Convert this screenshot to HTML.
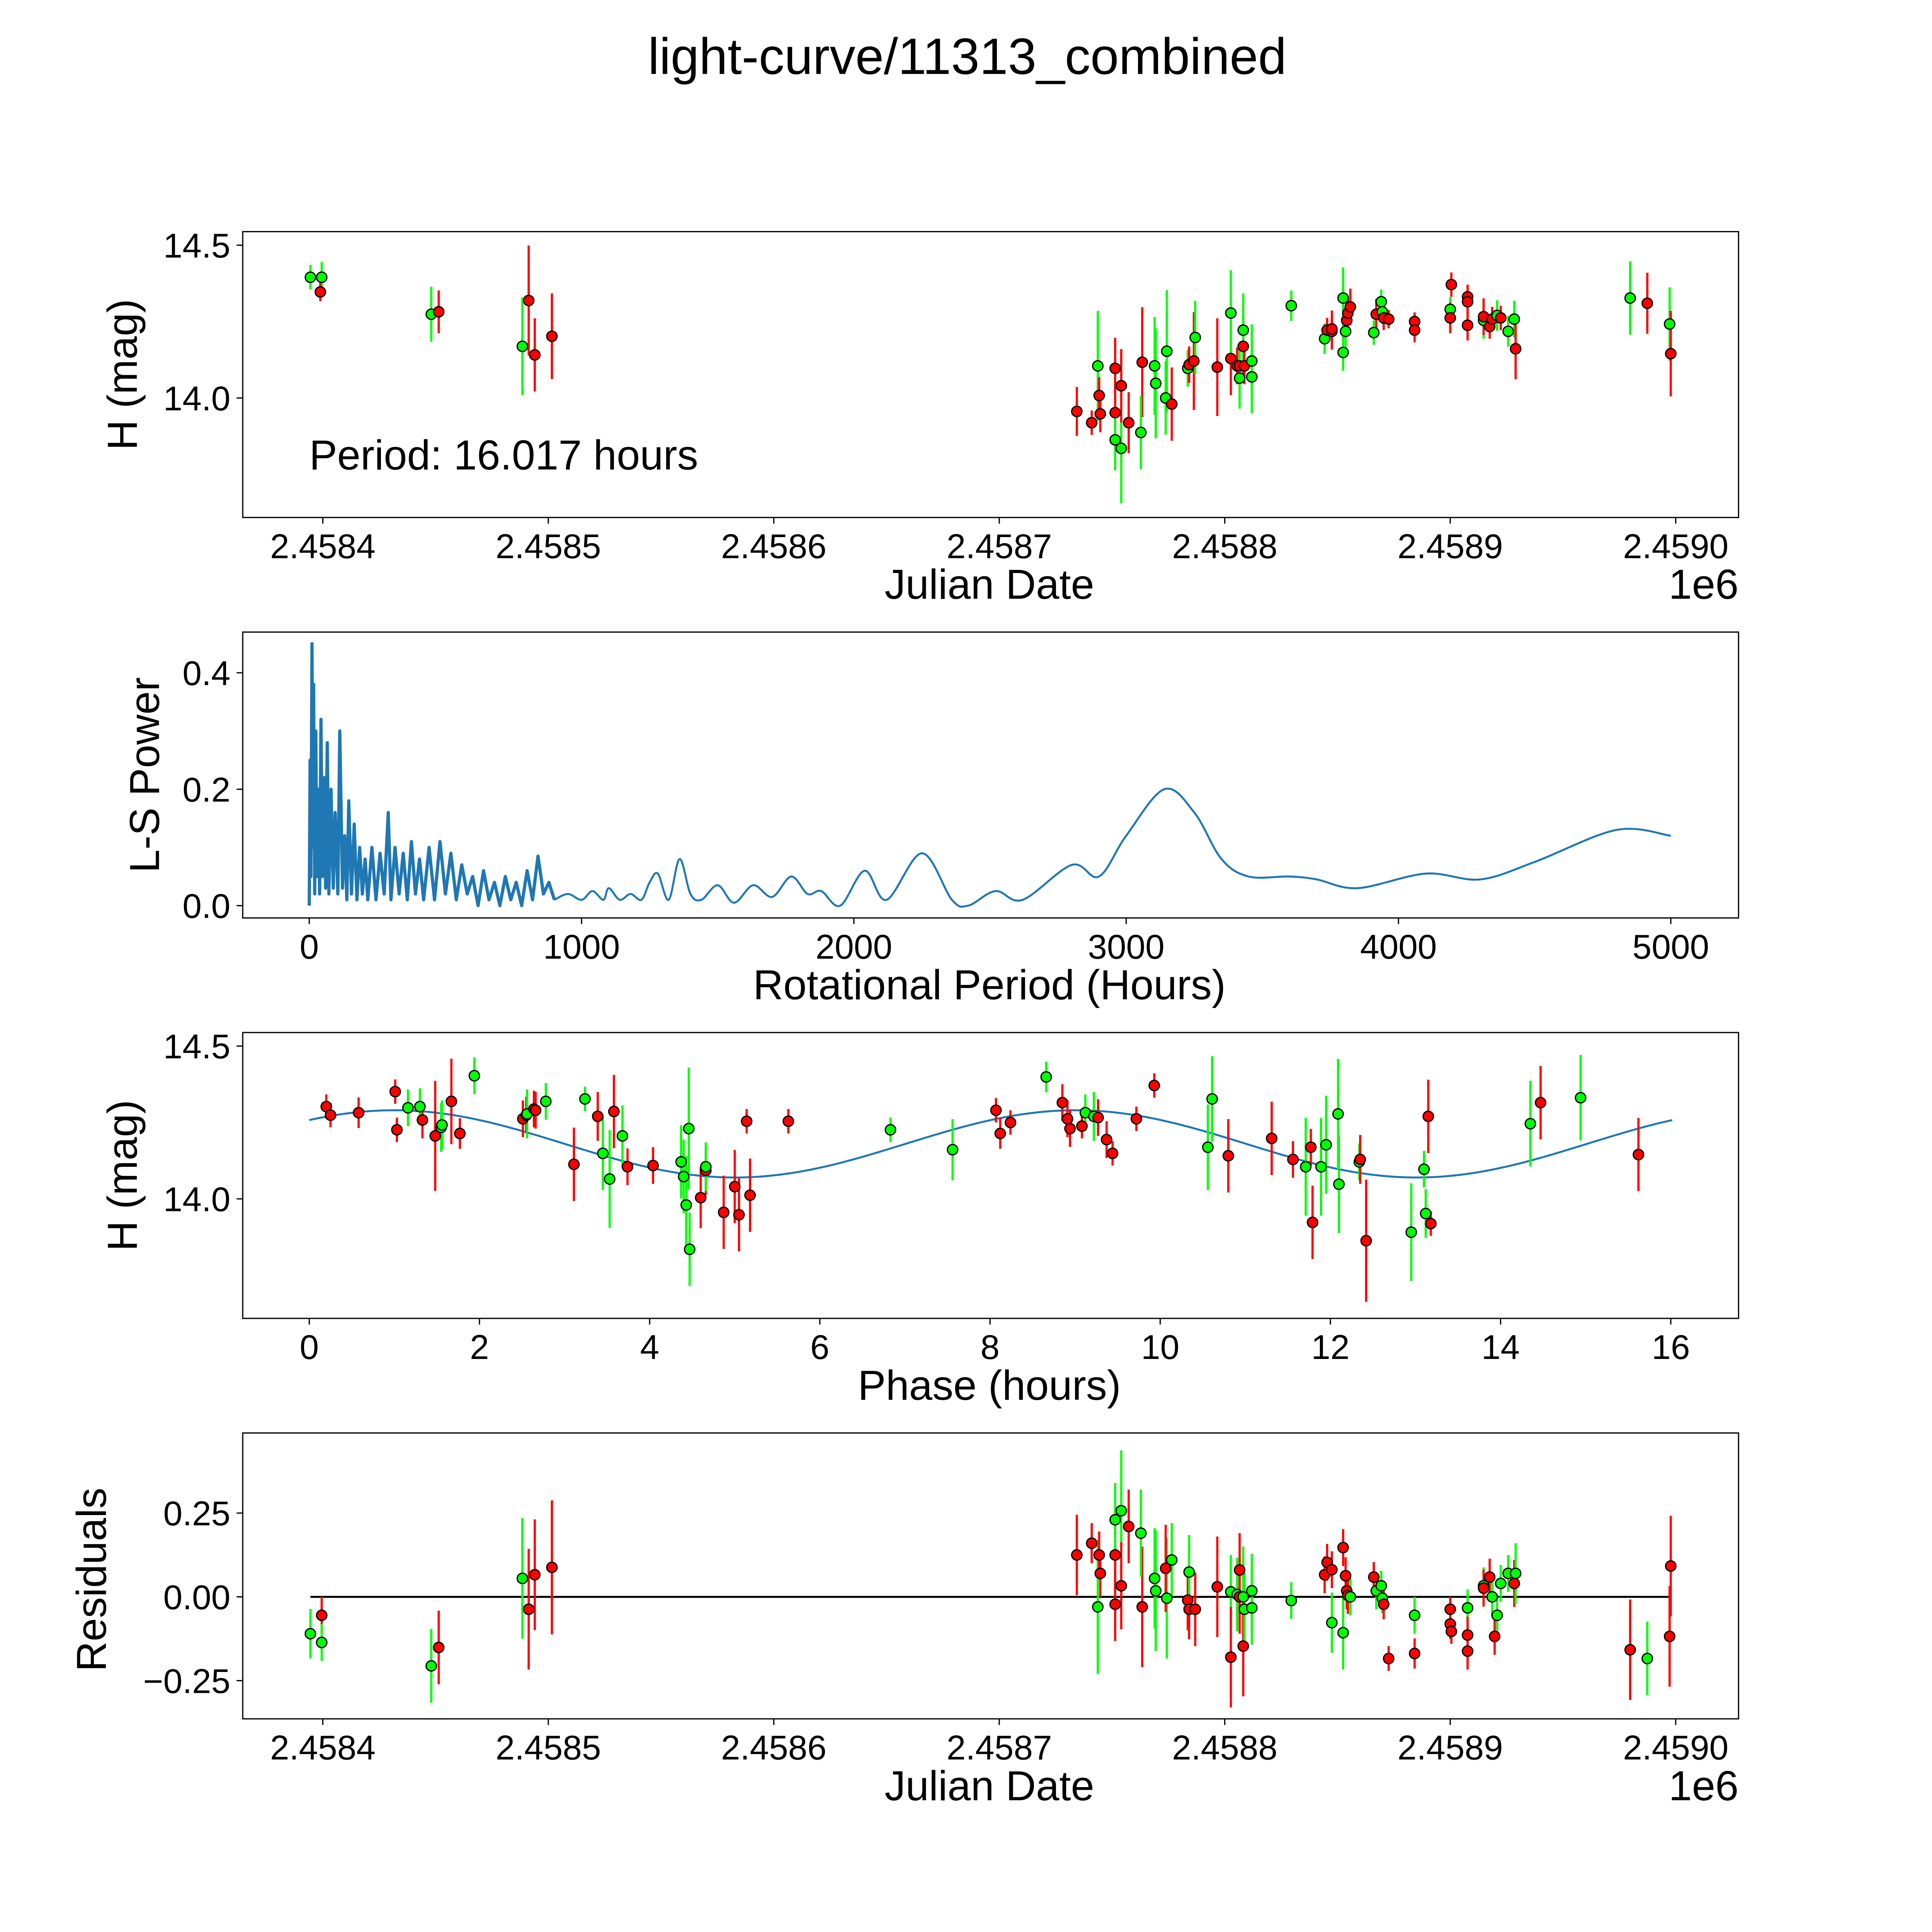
<!DOCTYPE html>
<html><head><meta charset="utf-8"><style>
html,body{margin:0;padding:0;background:#fff;width:100vw;height:100vh;overflow:hidden}
svg{display:block;width:100vw;height:100vh}
text{font-family:"Liberation Sans","DejaVu Sans",sans-serif;fill:#000}
</style></head><body>
<svg id="fig" xmlns="http://www.w3.org/2000/svg" viewBox="0 0 1568 1568" preserveAspectRatio="xMidYMid meet">
<rect x="0" y="0" width="1568" height="1568" fill="#fff"/>
<text x="785" y="60" font-size="41.5" text-anchor="middle">light-curve/11313_combined</text>
</svg>
<script>
// ---------- Panel 1 data ----------
const jdBase = 2458400;
const lcDays = [-5.5,-0.5,-1.1,48.1,51.4,88.5,91.3,94.0,101.6,334.4,341.0,343.7,344.3,344.8,351.4,351.4,351.4,354.1,354.1,357.4,363.4,362.8,368.9,369.4,374.3,373.8,376.5,383.6,384.2,386.3,386.9,396.7,402.7,402.7,405.5,406.6,406.6,408.2,408.2,408.7,412.0,412.0,429.5,444.3,445.4,447.5,447.5,452.5,452.5,453.6,454.1,454.6,455.7,466.1,467.2,469.4,469.9,470.5,472.7,484.2,484.2,500.0,500.0,500.5,507.7,507.7,507.7,514.8,514.8,517.5,518.6,520.8,522.4,525.7,528.4,529.0,579.8,587.4,597.3,597.8];
const lcMag = [14.395,14.395,14.347,14.274,14.282,14.169,14.319,14.141,14.202,13.956,13.919,14.105,14.008,13.948,14.097,13.952,13.863,13.835,14.040,13.919,14.117,13.887,14.105,14.048,14.153,14.0,13.98,14.097,14.109,14.121,14.198,14.101,14.129,14.278,14.105,14.105,14.065,14.169,14.222,14.105,14.121,14.069,14.302,14.194,14.222,14.218,14.226,14.327,14.149,14.218,14.254,14.278,14.298,14.214,14.274,14.315,14.282,14.262,14.258,14.25,14.222,14.29,14.262,14.371,14.331,14.238,14.315,14.254,14.266,14.234,14.258,14.270,14.262,14.218,14.258,14.161,14.327,14.31,14.242,14.145];
const lcErr = [.04,.05,.03,.09,.07,.16,.18,.12,.14,.08,.04,.18,.06,.06,.10,.10,.10,.18,.12,.10,.18,.12,.16,.18,.20,.12,.12,.06,.06,.16,.12,.16,.12,.14,.06,.06,.10,.12,.12,.06,.12,.12,.05,.05,.04,.06,.06,.10,.06,.06,.04,.05,.06,.04,.05,.04,.04,.04,.03,.03,.04,.04,.05,.04,.04,.05,.04,.06,.06,.04,.04,.05,.04,.05,.06,.10,.12,.10,.12,.14];
const lcColor = "ggrgrgrrrrrgrrrrggrrrgggggrgrrgrrgrrgrgrggggrrrgggrrrgrggrrrrgrrrrrgrrrgrggrgrgr".split("");

// ---------- Panel 2 data ----------
const noisyPeriods = [0,3,6,10,13,16,20,24,28,33,38,43,48,55,60,66,72,80,88,95,105,112,122,130,138,145,155,165,175,185,195,205,215,230,245,260,275,290,300,315,330,345,360,375,390,405,420,440,460,480,500,520,540,560,580,600,620,640,660,680,700,720,740,760,780,800,820,840,860,880,900];
const noisyPower = [0,0.25,0.05,0.45,0.1,0.38,0.02,0.30,0.05,0.20,0.02,0.32,0.05,0.22,0.03,0.28,0.02,0.20,0.03,0.16,0.02,0.30,0.03,0.12,0.01,0.18,0.02,0.14,0.01,0.10,0.02,0.08,0.01,0.10,0.01,0.09,0.02,0.16,0.01,0.10,0.02,0.09,0.01,0.11,0.02,0.08,0.01,0.10,0.01,0.11,0.02,0.09,0.01,0.07,0.02,0.05,0.0,0.06,0.01,0.04,0.0,0.05,0.01,0.04,0.0,0.06,0.01,0.085,0.02,0.04,0.01];
const smoothPeriods = [900,950,1000,1040,1080,1100,1140,1180,1220,1250,1280,1320,1360,1400,1440,1500,1560,1630,1700,1770,1830,1880,1950,2040,2120,2250,2360,2420,2520,2620,2800,2900,3000,3140,3250,3350,3450,3600,3700,3850,4100,4300,4500,4800,5000];
const smoothPower = [0.01,0.02,0.01,0.025,0.01,0.03,0.01,0.02,0.01,0.04,0.055,0.01,0.08,0.02,0.01,0.035,0.005,0.035,0.015,0.05,0.02,0.025,0.0,0.06,0.01,0.09,0.01,0.0,0.025,0.01,0.07,0.05,0.12,0.20,0.16,0.08,0.05,0.05,0.045,0.03,0.055,0.045,0.075,0.13,0.12];
const perTicks = [0,1000,2000,3000,4000,5000];
const powTicks = [0.0,0.2,0.4];

// ---------- Panel 3 data ----------
const phHours = [0.20,0.25,0.58,1.01,1.03,1.16,1.30,1.33,1.48,1.55,1.56,1.67,1.77,1.94,2.51,2.55,2.56,2.64,2.66,2.78,3.11,3.24,3.39,3.45,3.53,3.58,3.68,3.74,4.04,4.37,4.40,4.43,4.46,4.47,4.60,4.66,4.66,4.87,5.00,5.05,5.14,5.18,5.63,6.83,7.56,8.07,8.12,8.24,8.66,8.85,8.91,8.94,9.08,9.12,9.22,9.27,9.37,9.44,9.72,9.93,10.56,10.61,10.80,11.31,11.56,11.71,11.77,11.79,11.89,11.95,12.09,12.10,12.34,12.35,12.42,12.95,13.10,13.12,13.15,13.18,14.35,14.47,14.94,15.62];
const phMag = [14.302,14.274,14.282,14.351,14.226,14.298,14.302,14.258,14.206,14.234,14.242,14.319,14.214,14.403,14.262,14.274,14.278,14.294,14.290,14.319,14.113,14.327,14.270,14.149,14.065,14.286,14.206,14.105,14.109,14.121,14.073,13.980,14.230,13.835,14.004,14.093,14.105,13.956,14.040,13.948,14.254,14.012,14.254,14.226,14.161,14.290,14.214,14.250,14.399,14.315,14.262,14.230,14.238,14.282,14.270,14.266,14.194,14.149,14.262,14.371,14.169,14.327,14.141,14.198,14.129,14.105,14.169,13.923,14.105,14.177,14.278,14.048,14.121,14.129,13.863,13.891,14.097,13.952,14.270,13.919,14.246,14.315,14.331,14.145];
const phErr = [.04,.04,.05,.04,.04,.06,.06,.06,.18,.08,.08,.14,.05,.06,.06,.06,.08,.06,.06,.06,.12,.04,.08,.12,.16,.12,.10,.06,.06,.12,.12,.16,.20,.12,.10,.08,.08,.12,.12,.12,.04,.12,.04,.04,.10,.04,.05,.04,.05,.06,.06,.06,.04,.06,.08,.06,.06,.04,.04,.04,.14,.14,.12,.12,.06,.16,.06,.12,.16,.16,.18,.16,.06,.08,.20,.16,.06,.08,.12,.04,.14,.12,.14,.12];
const phColor = "rrrrrggrrggrrgrrgrrgrgrggrgrrgggggrrgrrrrrrggrrrgrrrrggrrrrrggrrrgrrgggggrrgggrrgrgrgr".split("");
const fitMean = 14.18, fitAmp = 0.11, fitPeriod = 16.017, fitPhase0 = 1.0;
const phTicks = [0,2,4,6,8,10,12,14,16];

// ---------- Panel 4 data ----------
const resDays = [-5.5,-0.5,-0.5,48.1,51.4,88.5,91.3,94.0,101.6,334.4,341.0,343.7,344.3,344.8,351.4,351.4,351.4,354.1,354.1,357.4,363.4,362.8,368.9,369.4,374.3,373.8,376.5,383.6,384.2,384.2,386.9,396.7,402.7,402.7,405.5,406.6,406.6,408.2,408.2,408.7,412.0,412.0,429.5,444.3,445.4,447.5,447.5,452.5,452.5,453.6,454.1,454.6,455.7,466.1,467.2,469.4,469.9,470.5,472.7,484.2,484.2,500.0,500.0,500.5,507.7,507.7,507.7,514.8,514.8,517.5,518.6,520.8,519.7,522.4,525.7,528.4,529.0,579.8,587.4,597.3,597.8];
const resVal = [-0.110,-0.055,-0.136,-0.206,-0.151,0.055,-0.037,0.066,0.088,0.125,0.16,-0.03,0.125,0.07,0.125,-0.022,0.23,0.257,0.033,0.21,-0.03,0.19,0.055,0.018,-0.004,0.085,0.11,-0.01,-0.037,0.074,-0.037,0.03,0.015,-0.18,0.007,0.0,0.08,0.0,-0.147,-0.037,-0.033,0.018,-0.011,0.066,0.103,0.081,-0.077,-0.107,0.147,0.063,0.018,0.004,0.0,0.059,0.018,0.033,-0.004,-0.022,-0.184,-0.169,-0.055,-0.037,-0.081,-0.103,-0.033,-0.114,-0.162,0.033,0.026,0.059,0.0,-0.055,-0.118,0.04,0.07,0.04,0.07,-0.158,-0.184,-0.118,0.092];
const resErr = [.074,.055,.055,.11,.11,.18,.18,.165,.20,.12,.06,.2,.07,.07,.11,.11,.11,.18,.13,.11,.18,.13,.15,.18,.18,.13,.11,.09,.09,.11,.11,.15,.11,.15,.11,.11,.11,.15,.15,.11,.11,.11,.055,.055,.055,.055,.09,.11,.055,.055,.055,.055,.055,.045,.055,.045,.045,.045,.037,.045,.055,.037,.045,.037,.055,.055,.055,.055,.055,.055,.055,.055,.055,.055,.055,.07,.09,.15,.11,.15,.15];
const resColor = "grggrgrrrrrgrrrrggrrrggggrgrrgrrgrgrrgrggggrrrggrrrrgrgggrrrgrrrgrrgrrggrggrgrgr".split("");
const jdTicks = [2458400,2458500,2458600,2458700,2458800,2458900,2459000];
const magTicks = [14.0,14.5];
const resTicks = [-0.25,0.0,0.25];

// ---------- Layout ----------
const NS = "http://www.w3.org/2000/svg";
const svg = document.getElementById("fig");
const AX_L = 197, AX_R = 1411;
const TICK_FS = 28, LAB_FS = 34;
const panels = [{top:188,bot:420},{top:513,bot:745},{top:838,bot:1070},{top:1163,bot:1395}];
function lin(d0,d1,r0,r1){return v => r0 + (v-d0)*(r1-r0)/(d1-d0);}
const xJD = lin(2458400,2459000,262,1360);
const yMag1 = lin(14.0,14.5,323,199);
const xPer = lin(0,5000,251,1356);
const yPow = lin(0,0.4,735,546);
const xPh = lin(0,16,251,1356);
const yMag3 = lin(14.0,14.5,973,849);
const yRes = lin(0,0.25,1296,1228);

function el(tag, attrs, parent){
  const e = document.createElementNS(NS, tag);
  for (const k in attrs) e.setAttribute(k, attrs[k]);
  (parent||svg).appendChild(e);
  return e;
}
function txt(s, x, y, size, anchor, parent, rot){
  const t = el("text",{x:x,y:y,"font-size":size,"text-anchor":anchor||"middle"},parent);
  if (rot) t.setAttribute("transform","rotate(-90 "+x+" "+y+")");
  t.textContent = s;
  return t;
}
function fmt(v,d){const s=v.toFixed(d);return v<0?"\u2212"+s.slice(1):s;}

function frame(p, name){
  const g = el("g",{});
  
  
  const r = el("rect",{x:AX_L,y:p.top,width:AX_R-AX_L,height:p.bot-p.top,fill:"none",stroke:"#000","stroke-width":1},g);
  
  
  return g;
}
function xTicks(g, p, ticks, sx, lab){
  ticks.forEach(t=>{
    const x = sx(t);
    el("line",{x1:x,x2:x,y1:p.bot,y2:p.bot+5,stroke:"#000","stroke-width":1},g);
    const tl = txt(lab(t), x, p.bot+33, TICK_FS, "middle", g);
    
    
  });
}
function yTicks(g, p, ticks, sy, lab){
  ticks.forEach(t=>{
    const y = sy(t);
    el("line",{x1:AX_L-5,x2:AX_L,y1:y,y2:y,stroke:"#000","stroke-width":1},g);
    const tl = txt(lab(t), AX_L-10, y+10, TICK_FS, "end", g);
    
    
  });
}
function points(g, xs, ys, es, cs, sx, sy){
  const col = c => c==="g" ? "#00ff00" : "#ff0000";
  xs.forEach((v,i)=>{
    const x=sx(v), y1=sy(ys[i]-es[i]), y2=sy(ys[i]+es[i]);
    const b = el("line",{x1:x,x2:x,y1:y1,y2:y2,stroke:col(cs[i]),"stroke-width":1.8},g);
    
    
  });
  xs.forEach((v,i)=>{
    const c = el("circle",{cx:sx(v),cy:sy(ys[i]),r:4.2,fill:col(cs[i]),stroke:"#000","stroke-width":1},g);
    
    
  });
}

// Panel 1
const g1 = frame(panels[0], "light-curve-panel");
xTicks(g1, panels[0], jdTicks, xJD, t=>(t/1e6).toFixed(4));
yTicks(g1, panels[0], magTicks, yMag1, t=>t.toFixed(1));
points(g1, lcDays.map(d=>d+jdBase), lcMag, lcErr, lcColor, xJD, yMag1);
let t;
t = txt("Julian Date", 803, 486, LAB_FS, "middle", g1);  
t = txt("1e6", 1411, 486, LAB_FS, "end", g1);  
t = txt("H (mag)", 111, 304, LAB_FS, "middle", g1, true);  
t = txt("Period: 16.017 hours", 251, 381, LAB_FS, "start", g1);  

// Panel 2
const g2 = frame(panels[1], "periodogram-panel");
xTicks(g2, panels[1], perTicks, xPer, t=>String(t));
yTicks(g2, panels[1], powTicks, yPow, t=>t.toFixed(1));
let dN = noisyPeriods.map((p,i)=>(i?"L":"M")+xPer(p).toFixed(2)+" "+yPow(noisyPower[i]).toFixed(2)).join(" ");
const pn = el("path",{d:dN,fill:"none",stroke:"#1f77b4","stroke-width":2.6,"stroke-linejoin":"round"},g2);


const sp = smoothPeriods.map((p,i)=>[xPer(p), yPow(smoothPower[i])]);
let dS = "M"+sp[0][0]+" "+sp[0][1];
for (let i=0;i<sp.length-1;i++){
  const p0=sp[Math.max(0,i-1)], p1=sp[i], p2=sp[i+1], p3=sp[Math.min(sp.length-1,i+2)];
  const c1=[p1[0]+(p2[0]-p0[0])/6, p1[1]+(p2[1]-p0[1])/6];
  const c2=[p2[0]-(p3[0]-p1[0])/6, p2[1]-(p3[1]-p1[1])/6];
  dS += " C"+c1[0].toFixed(2)+" "+c1[1].toFixed(2)+" "+c2[0].toFixed(2)+" "+c2[1].toFixed(2)+" "+p2[0].toFixed(2)+" "+p2[1].toFixed(2);
}
const ps = el("path",{d:dS,fill:"none",stroke:"#1f77b4","stroke-width":1.6},g2);


t = txt("Rotational Period (Hours)", 803, 811, LAB_FS, "middle", g2);  
t = txt("L-S Power", 129, 629, LAB_FS, "middle", g2, true);  

// Panel 3
const g3 = frame(panels[2], "phased-curve-panel");
xTicks(g3, panels[2], phTicks, xPh, t=>String(t));
yTicks(g3, panels[2], magTicks, yMag3, t=>t.toFixed(1));
let dF = "";
for (let i=0;i<=320;i++){
  const h = i*fitPeriod/320;
  const v = fitMean + fitAmp*Math.cos(4*Math.PI*(h-fitPhase0)/fitPeriod);
  dF += (i?" L":"M")+xPh(h).toFixed(2)+" "+yMag3(v).toFixed(2);
}
const fl = el("path",{d:dF,fill:"none",stroke:"#1f77b4","stroke-width":1.6},g3);


points(g3, phHours, phMag, phErr, phColor, xPh, yMag3);
t = txt("Phase (hours)", 803, 1136, LAB_FS, "middle", g3);  
t = txt("H (mag)", 111, 954, LAB_FS, "middle", g3, true);  

// Panel 4
const g4 = frame(panels[3], "residuals-panel");
xTicks(g4, panels[3], jdTicks, xJD, t=>(t/1e6).toFixed(4));
yTicks(g4, panels[3], resTicks, yRes, t=>fmt(t,2));
const zl = el("line",{x1:xJD(lcDays[0]+jdBase),x2:xJD(lcDays[lcDays.length-1]+jdBase),y1:yRes(0),y2:yRes(0),stroke:"#000","stroke-width":1.6},g4);


points(g4, resDays.map(d=>d+jdBase), resVal, resErr, resColor, xJD, yRes);
t = txt("Julian Date", 803, 1461, LAB_FS, "middle", g4);  
t = txt("1e6", 1411, 1461, LAB_FS, "end", g4);  
t = txt("Residuals", 86, 1282, LAB_FS, "middle", g4, true);  
</script>
</body></html>
